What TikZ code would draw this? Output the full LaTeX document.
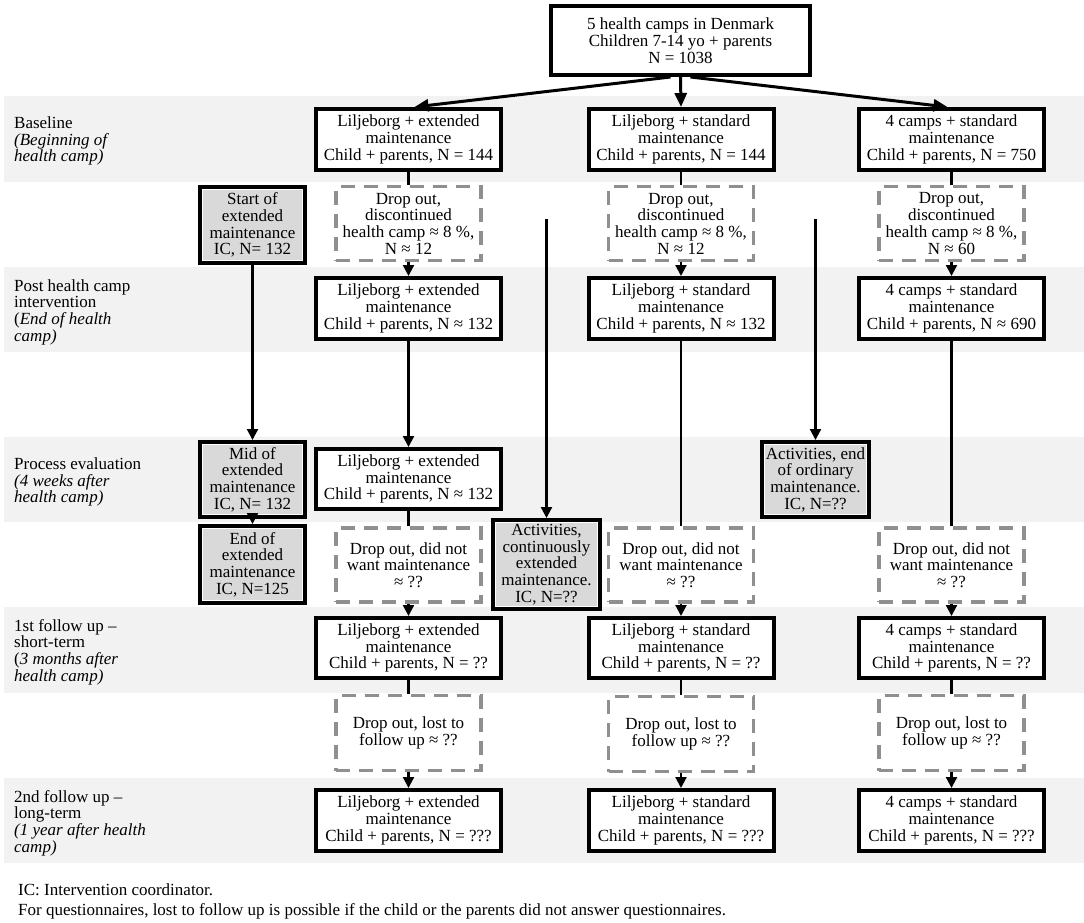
\documentclass[tikz,border=0pt]{standalone}
\usepackage{fontspec}
\setmainfont{Liberation Serif}
\usetikzlibrary{arrows.meta}

\definecolor{bandgray}{HTML}{F2F2F2}
\definecolor{icgray}{HTML}{D9D9D9}
\definecolor{dropgray}{HTML}{8F8F8F}

\begin{document}
\begin{tikzpicture}[x=1pt,y=-1pt,
  font=\fontsize{17}{16.7}\selectfont,
  topbox/.style={draw, line width=4pt, fill=white, inner sep=0pt, align=center, minimum width=259pt, minimum height=69pt},
  campbox/.style={draw, line width=4pt, fill=white, inner sep=0pt, align=center, minimum width=185pt, minimum height=61pt},
  dropbox/.style={draw=dropgray, line width=3.5pt, dash pattern=on 14pt off 9pt, fill=white, inner sep=0pt, align=center, minimum width=145pt, minimum height=74pt},
  icbox/.style={draw, line width=4pt, fill=icgray, inner sep=0pt, align=center, minimum width=105pt, minimum height=76pt,
    path picture={\draw[white, line width=6pt] (path picture bounding box.south west) rectangle (path picture bounding box.north east);}},
  rowlabel/.style={anchor=west, align=left, inner sep=0pt},
  flow/.style={line width=2.2pt},
  flowarrow/.style={line width=2.2pt, -{Triangle[length=11pt,width=11pt]}},
  splitarrow/.style={line width=3pt, -{Triangle[length=14pt,width=12pt]}}]
\useasboundingbox (0,0) rectangle (1084,923);

% Bands
\fill[bandgray] (4,96) rectangle (1084,182);
\fill[bandgray] (4,267) rectangle (1084,352);
\fill[bandgray] (4,437) rectangle (1084,522);
\fill[bandgray] (4,607) rectangle (1084,693);
\fill[bandgray] (4,778) rectangle (1084,863);

% Row labels
\node[rowlabel] (lbase) at (14,141) {Baseline\\\textit{(Beginning of}\\\textit{health camp)}};
\node[rowlabel] (lpost) at (14,312) {Post health camp\\intervention\\(\textit{End of health}\\\textit{camp)}};
\node[rowlabel] (lproc) at (14,482) {Process evaluation\\\textit{(4 weeks after}\\\textit{health camp)}};
\node[rowlabel] (lfirst) at (14,652) {1st follow up –\\short-term\\(\textit{3 months after}\\\textit{health camp)}};
\node[rowlabel] (lsecond) at (14,823) {2nd follow up –\\long-term\\\textit{(1 year after health}\\\textit{camp)}};

% Top
\node[topbox] (top) at (680.5,40.5) {5 health camps in Denmark\\Children 7-14 yo + parents\\N = 1038};

% Baseline
\node[campbox] (l1) at (408.5,139.5) {Liljeborg + extended\\maintenance\\Child + parents, N = 144};
\node[campbox] (m1) at (681,139.5) {Liljeborg + standard\\maintenance\\Child + parents, N = 144};
\node[campbox] (r1) at (951.5,139.5) {4 camps + standard\\maintenance\\Child + parents, N = 750};

% Drop out, health camp
\node[dropbox] (ld1) at (408.5,223.5) {Drop out,\\discontinued\\health camp ≈ 8 \%,\\N ≈ 12};
\node[dropbox] (md1) at (681,223.5) {Drop out,\\discontinued\\health camp ≈ 8 \%,\\N ≈ 12};
\node[dropbox] (rd1) at (951.5,223.5) {Drop out,\\discontinued\\health camp ≈ 8 \%,\\N ≈ 60};
\node[icbox] (start) at (252.5,225) {Start of\\extended\\maintenance\\IC, N= 132};

% Post health camp
\node[campbox] (l2) at (408.5,308.5) {Liljeborg + extended\\maintenance\\Child + parents, N ≈ 132};
\node[campbox] (m2) at (681,308.5) {Liljeborg + standard\\maintenance\\Child + parents, N ≈ 132};
\node[campbox] (r2) at (951.5,308.5) {4 camps + standard\\maintenance\\Child + parents, N ≈ 690};

% Process evaluation
\node[icbox, minimum height=75pt] (mid) at (252.5,479.5) {Mid of\\extended\\maintenance\\IC, N= 132};
\node[campbox, minimum height=60pt] (l3) at (408.5,479) {Liljeborg + extended\\maintenance\\Child + parents, N ≈ 132};
\node[icbox, minimum width=107pt, minimum height=75pt] (actend) at (815.5,479.5) {Activities, end\\of ordinary\\maintenance.\\IC, N=??};

% Drop out, maintenance
\node[icbox, minimum height=77pt] (end) at (252.5,564.5) {End of\\extended\\maintenance\\IC, N=125};
\node[dropbox] (ld3) at (408.5,565) {Drop out, did not\\want maintenance\\≈ ??};
\node[icbox, minimum width=107pt, minimum height=89pt] (actcont) at (546.5,564.5) {Activities,\\continuously\\extended\\maintenance.\\IC, N=??};
\node[dropbox] (md3) at (681,565) {Drop out, did not\\want maintenance\\≈ ??};
\node[dropbox] (rd3) at (951.5,565) {Drop out, did not\\want maintenance\\≈ ??};

% 1st follow up
\node[campbox, minimum height=60pt] (l4) at (408.5,648) {Liljeborg + extended\\maintenance\\Child + parents, N = ??};
\node[campbox, minimum height=60pt] (m4) at (681,648) {Liljeborg + standard\\maintenance\\Child + parents, N = ??};
\node[campbox, minimum height=60pt] (r4) at (951.5,648) {4 camps + standard\\maintenance\\Child + parents, N = ??};

% Drop out, follow up
\node[dropbox, minimum height=75pt] (ld4) at (408.5,733) {Drop out, lost to\\follow up ≈ ??};
\node[dropbox, minimum height=75pt] (md4) at (681,734) {Drop out, lost to\\follow up ≈ ??};
\node[dropbox, minimum height=75pt] (rd4) at (951.5,733) {Drop out, lost to\\follow up ≈ ??};

% 2nd follow up
\node[campbox] (l5) at (408.5,820.5) {Liljeborg + extended\\maintenance\\Child + parents, N = ???};
\node[campbox] (m5) at (681,820.5) {Liljeborg + standard\\maintenance\\Child + parents, N = ???};
\node[campbox] (r5) at (951.5,820.5) {4 camps + standard\\maintenance\\Child + parents, N = ???};

% Notes
\node[rowlabel] (noteic) at (18,890) {IC: Intervention coordinator.};
\node[rowlabel] (noteq) at (18,911) {For questionnaires, lost to follow up is possible if the child or the parents did not answer questionnaires.};

% Connectors
\coordinate (cont) at (546.5,219);
\coordinate (ord) at (815.5,219);

\draw[splitarrow] ([xshift=-10pt]top.south) -- ([xshift=6pt]l1.north);
\draw[splitarrow] (top.south) -- (m1.north);
\draw[splitarrow] ([xshift=10pt]top.south) -- ([xshift=-4pt]r1.north);

\draw[flow] (l1) -- (ld1);
\draw[flow] (m1) -- (md1);
\draw[flow] (r1) -- (rd1);
\draw[flowarrow] (ld1) -- (l2);
\draw[flowarrow] (md1) -- (m2);
\draw[flowarrow] (rd1) -- (r2);

\draw[flowarrow] (start) -- (mid);
\draw[flowarrow] (mid.south) -- (end.north);
\draw[flowarrow] (l2) -- (l3);
\draw[flowarrow] (cont) -- (actcont);
\draw[flowarrow] (ord) -- (actend);

\draw[flow] (l3) -- (ld3);
\draw[flow] (m2) -- (md3);
\draw[flow] (r2) -- (rd3);
\draw[flowarrow] (ld3) -- (l4);
\draw[flowarrow] (md3) -- (m4);
\draw[flowarrow] (rd3) -- (r4);

\draw[flow] (l4) -- (ld4);
\draw[flow] (m4) -- (md4);
\draw[flow] (r4) -- (rd4);
\draw[flowarrow] (ld4) -- (l5);
\draw[flowarrow] (md4) -- (m5);
\draw[flowarrow] (rd4) -- (r5);

\end{tikzpicture}
\end{document}
